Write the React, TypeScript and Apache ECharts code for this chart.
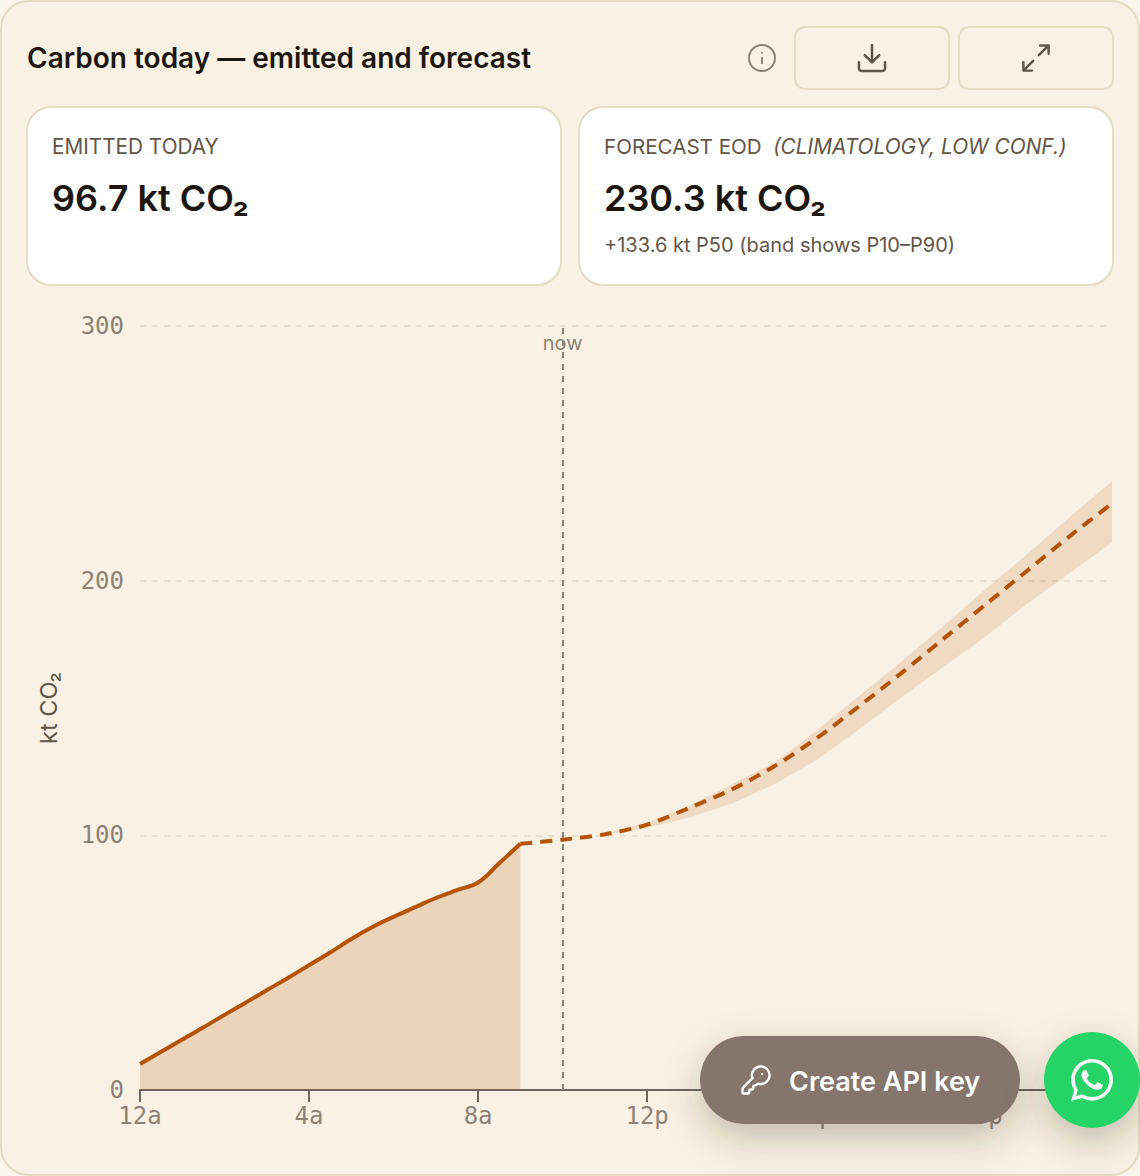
import { useEffect, useRef } from 'react';
import * as echarts from 'echarts';

// kt CO2 readings, hour of day on x
const emittedHours = [0, 0.5, 1, 1.5, 2, 2.5, 3, 3.5, 4, 4.5, 5, 5.5, 6, 6.5, 7, 7.5, 8, 8.5, 9];
const emittedValues = [10.2, 15, 19.8, 24.6, 29.5, 34.3, 39.2, 44, 49, 54, 59.3, 64, 68, 71.7, 75.4, 78.5, 81.5, 89, 96.7];

const forecastHours = [9, 10, 11, 12, 13, 14, 15, 16, 17, 18, 19, 20, 21, 22, 23];
const forecastP50 = [96.7, 98.3, 100.4, 104.2, 110.8, 118, 127, 138, 150.5, 163.5, 177, 190.5, 204, 217.5, 230.3];

const bandHours = [11, 12, 13, 14, 15, 16, 17, 18, 19, 20, 21, 22, 23];
const bandP10 = [100.2, 103, 107, 112.5, 120, 129.5, 141.5, 154, 166, 178, 191, 203, 215];
const bandP90 = [100.6, 105, 111.7, 120, 128.5, 141, 154.5, 168, 182, 196.5, 210.5, 225, 239];

// the last two ticks sit a little late in the reference
const xTickHours = [0, 4, 8, 12, 16.07, 20.07];
const xTickLabels = ['12a', '4a', '8a', '12p', '4p', '8p'];
const nowHour = 10;

const ACCENT = '#b45309';
const BORDER = '#e6dcc3';
const CARD = '#f9f2e4';
const INK = '#1c1710';
const MUTED = '#5f5648';
const AXIS_TEXT = '#8c8375';
const SANS = 'Inter, sans-serif';
const MONO = '"DejaVu Sans Mono", monospace';

const ICONS: Record<string, string> = {
  infoIcon: 'M22 12a10 10 0 1 1-20 0a10 10 0 1 1 20 0 M12 16v-4 M12 8h.01',
  downloadIcon: 'M12 15V3 M21 15v4a2 2 0 0 1-2 2H5a2 2 0 0 1-2-2v-4 M7 10l5 5 5-5',
  expandIcon: 'M15 3h6v6 M9 21H3v-6 M21 3l-7 7 M3 21l7-7',
  keyIcon:
    'M2.586 17.414A2 2 0 0 0 2 18.828V21a1 1 0 0 0 1 1h3a1 1 0 0 0 1-1v-1a1 1 0 0 1 1-1h1a1 1 0 0 0 1-1v-1a1 1 0 0 1 1-1h.172a2 2 0 0 0 1.414-.586l.814-.814a6.5 6.5 0 1 0-4-4z M16.5 7.5h.01',
  whatsappIcon:
    'M17.472 14.382c-.297-.149-1.758-.867-2.03-.967-.273-.099-.471-.148-.67.15-.197.297-.767.966-.94 1.164-.173.199-.347.223-.644.075-.297-.15-1.255-.463-2.39-1.475-.883-.788-1.48-1.761-1.653-2.059-.173-.297-.018-.458.13-.606.134-.133.298-.347.446-.52.149-.174.198-.298.298-.497.099-.198.05-.371-.025-.52-.075-.149-.669-1.612-.916-2.207-.242-.579-.487-.5-.669-.51-.173-.008-.371-.01-.57-.01-.198 0-.52.074-.792.372-.272.297-1.04 1.016-1.04 2.479 0 1.462 1.065 2.875 1.213 3.074.149.198 2.096 3.2 5.077 4.487.709.306 1.262.489 1.694.625.712.227 1.36.195 1.871.118.571-.085 1.758-.719 2.006-1.413.248-.694.248-1.289.173-1.413-.074-.124-.272-.198-.57-.347m-5.421 7.403h-.004a9.87 9.87 0 0 1-5.031-1.378l-.361-.214-3.741.982.998-3.648-.235-.374a9.86 9.86 0 0 1-1.51-5.26c.001-5.45 4.436-9.884 9.888-9.884 2.64 0 5.122 1.03 6.988 2.898a9.825 9.825 0 0 1 2.893 6.994c-.003 5.45-4.437 9.884-9.885 9.884m8.413-18.297A11.815 11.815 0 0 0 12.05 0C5.495 0 .16 5.335.157 11.892c0 2.096.547 4.142 1.588 5.945L.057 24l6.305-1.654a11.882 11.882 0 0 0 5.683 1.448h.005c6.554 0 11.89-5.335 11.893-11.893a11.821 11.821 0 0 0-3.48-8.413z',
};

Object.keys(ICONS).forEach((name) => {
  echarts.graphic.registerShape(name, echarts.graphic.extendPath(ICONS[name], {}));
});

const box = (x: number, y: number, width: number, height: number, r: number, fill: string, z = 0) => ({
  type: 'rect',
  z,
  shape: { x, y, width, height, r },
  style: { fill, stroke: BORDER, lineWidth: 2 },
});

const label = (x: number, y: number, text: string, fontSize: number, fill: string, extra = {}, z = 1) => ({
  type: 'text',
  z,
  x,
  y,
  style: { text, fontSize, fill, fontFamily: SANS, textVerticalAlign: 'middle', ...extra },
});

const icon = (type: string, cx: number, cy: number, scale: number, style: object, z = 1) => ({
  type,
  z,
  x: cx - 12 * scale,
  y: cy - 12 * scale,
  scaleX: scale,
  scaleY: scale,
  style,
});

const outline = (stroke: string, lineWidth: number) => ({
  fill: 'none',
  stroke,
  lineWidth,
  lineCap: 'round',
  lineJoin: 'round',
});

const floatShadow = { shadowBlur: 36, shadowOffsetY: 14, shadowColor: 'rgba(70,50,30,0.28)' };

// stack can't be used with two value axes, so the P10-P90 band is one polygon
const renderBand = (params: any, api: any) => {
  if (params.dataIndex !== 0) return null;
  const upper = bandHours.map((h, i) => api.coord([h, bandP90[i]]));
  const lower = bandHours.map((h, i) => api.coord([h, bandP10[i]])).reverse();
  return {
    type: 'polygon',
    shape: { points: [...upper, ...lower] },
    style: { fill: ACCENT, opacity: 0.15 },
  };
};

export default function App() {
  const chartRef = useRef<HTMLDivElement>(null);

  useEffect(() => {
    if (!chartRef.current) return;

    const chart = echarts.init(chartRef.current, null, { renderer: 'svg' });

    const option = {
      animation: false,
      backgroundColor: 'transparent',
      title: {
        text: 'Carbon today — emitted and forecast',
        left: 22,
        top: 39,
        textStyle: { fontFamily: SANS, fontSize: 28, fontWeight: 600, color: INK },
      },
      grid: { left: 140, right: 28, top: 326, bottom: 86 },
      xAxis: {
        type: 'value',
        min: 0,
        max: 23,
        splitLine: { show: false },
        axisLine: { lineStyle: { color: '#6b6660', width: 2 } },
        axisTick: { length: 12, customValues: xTickHours, lineStyle: { color: '#6b6660', width: 2 } },
        axisLabel: {
          margin: 14,
          customValues: xTickHours,
          fontFamily: MONO,
          fontSize: 24,
          color: AXIS_TEXT,
          formatter: (v: number) => xTickLabels[xTickHours.indexOf(v)] ?? '',
        },
      },
      yAxis: {
        type: 'value',
        min: 0,
        max: 300,
        interval: 100,
        name: 'kt CO₂',
        nameLocation: 'middle',
        nameGap: 80,
        nameTextStyle: { fontFamily: SANS, fontSize: 23.5, color: MUTED },
        axisLine: { show: false },
        axisTick: { show: false },
        axisLabel: { margin: 16, padding: [2, 0, 0, 0], fontFamily: MONO, fontSize: 24, color: AXIS_TEXT },
        splitLine: { lineStyle: { color: '#e8e0d0', width: 2, type: [6, 6] } },
      },
      series: [
        {
          type: 'custom',
          name: 'P10–P90',
          silent: true,
          data: bandHours.map((h, i) => [h, bandP10[i], bandP90[i]]),
          encode: { x: 0, y: [1, 2] },
          renderItem: renderBand,
        },
        {
          type: 'line',
          name: 'Emitted',
          data: emittedHours.map((h, i) => [h, emittedValues[i]]),
          symbol: 'none',
          smooth: 0.4,
          lineStyle: { color: ACCENT, width: 4 },
          areaStyle: { color: ACCENT, opacity: 0.19 },
        },
        {
          type: 'line',
          name: 'Forecast P50',
          data: forecastHours.map((h, i) => [h, forecastP50[i]]),
          symbol: 'none',
          smooth: 0.3,
          lineStyle: { color: ACCENT, width: 4, type: [12, 8] },
          markLine: {
            silent: true,
            symbol: 'none',
            lineStyle: { color: AXIS_TEXT, width: 2, type: [6, 6] },
            label: {
              show: true,
              formatter: 'now',
              position: 'end',
              distance: -27,
              fontFamily: SANS,
              fontSize: 20,
              color: AXIS_TEXT,
            },
            data: [{ xAxis: nowHour }],
          },
        },
      ],
      graphic: [
        // card frame and kpi tiles sit under the series
        box(1, 1, 1138, 1174, 28, CARD, -10),
        box(27, 107, 534, 178, 24, '#ffffff'),
        box(579, 107, 534, 178, 24, '#ffffff'),
        box(795, 27, 154, 62, 10, 'transparent'),
        box(959, 27, 154, 62, 10, 'transparent'),
        icon('infoIcon', 762, 58, 1.3, outline(AXIS_TEXT, 1.5)),
        icon('downloadIcon', 872, 58, 1.45, outline(MUTED, 1.75)),
        icon('expandIcon', 1036, 58, 1.4, outline(MUTED, 1.75)),

        label(52, 146, 'EMITTED TODAY', 20.75, MUTED),
        label(52, 198, '96.7 kt CO₂', 36, INK, { fontWeight: 600 }),
        label(604, 146, 'FORECAST EOD', 20.6, MUTED),
        label(773, 146, '(CLIMATOLOGY, LOW CONF.)', 20.85, MUTED, { fontStyle: 'italic' }),
        label(604, 198, '230.3 kt CO₂', 36, INK, { fontWeight: 600 }),
        label(604, 245, '+133.6 kt P50 (band shows P10–P90)', 20, MUTED),

        // floating actions on top of the axis
        {
          type: 'rect',
          z: 50,
          shape: { x: 700, y: 1036, width: 320, height: 88, r: 44 },
          style: { fill: '#85746c', ...floatShadow },
        },
        icon('keyIcon', 756, 1080, 1.35, outline('#ffffff', 1.75), 51),
        label(789, 1081, 'Create API key', 27, '#ffffff', { fontWeight: 600 }, 51),
        {
          type: 'circle',
          z: 50,
          shape: { cx: 1092, cy: 1080, r: 48 },
          style: { fill: '#25d366', ...floatShadow },
        },
        icon('whatsappIcon', 1092, 1080, 1.75, { fill: '#ffffff' }, 51),
      ],
    };

    chart.setOption(option as echarts.EChartsOption);

    return () => {
      chart.dispose();
    };
  }, []);

  return (
    <>
      <style>{'body{margin:0;background:#faf5ea}'}</style>
      <div ref={chartRef} style={{ width: 1140, height: 1176 }} />
    </>
  );
}
